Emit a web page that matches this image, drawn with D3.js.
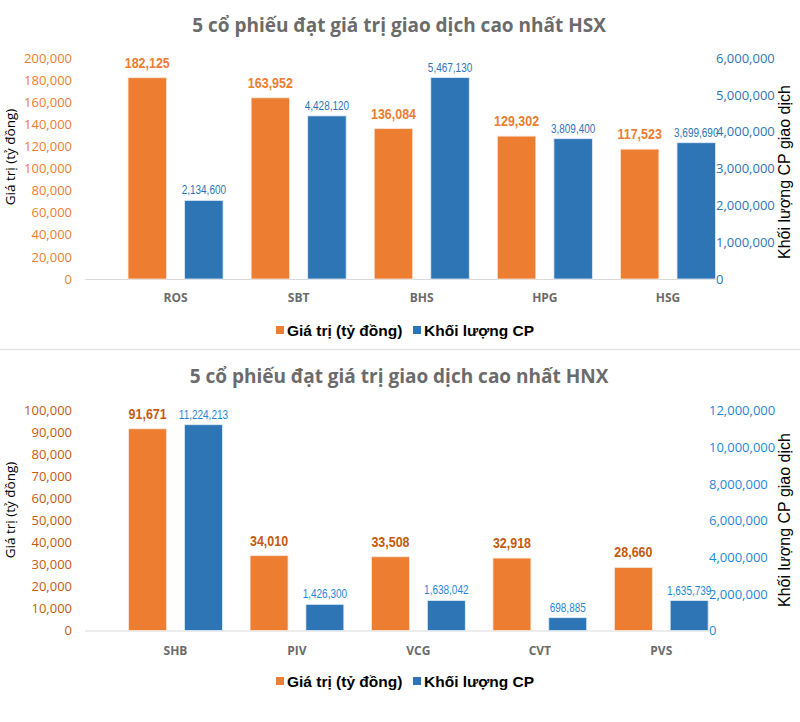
<!DOCTYPE html>
<html><head><meta charset="utf-8">
<script src="https://cdn.jsdelivr.net/npm/d3@7"></script>
<style>body{margin:0;background:#fff}svg{display:block}</style>
</head><body>
<svg id="c" width="800" height="722"></svg>
<script>
// ---- data ----
const hsxCategories = ["ROS", "SBT", "BHS", "HPG", "HSG"];
const hsxValue = [182125, 163952, 136084, 129302, 117523];      // Giá trị (tỷ đồng)
const hsxVolume = [2134600, 4428120, 5467130, 3809400, 3699690]; // Khối lượng CP
const hsxLeftTicks = [0, 20000, 40000, 60000, 80000, 100000, 120000, 140000, 160000, 180000, 200000];
const hsxRightTicks = [0, 1000000, 2000000, 3000000, 4000000, 5000000, 6000000];

const hnxCategories = ["SHB", "PIV", "VCG", "CVT", "PVS"];
const hnxValue = [91671, 34010, 33508, 32918, 28660];
const hnxVolume = [11224213, 1426300, 1638042, 698885, 1635739];
const hnxLeftTicks = [0, 10000, 20000, 30000, 40000, 50000, 60000, 70000, 80000, 90000, 100000];
const hnxRightTicks = [0, 2000000, 4000000, 6000000, 8000000, 10000000, 12000000];

const seriesNames = ["Giá trị (tỷ đồng)", "Khối lượng CP"];

const svg = d3.select("#c");
const fmt = d3.format(",");

function drawChart(cfg) {
  const g = svg.append("g");
  // title
  g.append("text").attr("x", 399).attr("y", cfg.titleY)
    .attr("text-anchor", "middle")
    .attr("font-family", "'Open Sans', sans-serif").attr("font-weight", 700)
    .attr("font-size", 19).attr("fill", "#6b6b6b").text(cfg.title);

  const yL = d3.scaleLinear().domain([0, d3.max(cfg.leftTicks)]).range([cfg.y0, cfg.y1]);
  const yR = d3.scaleLinear().domain([0, d3.max(cfg.rightTicks)]).range([cfg.y0, cfg.y1]);
  const x0 = d3.scaleBand().domain(cfg.cats).range(cfg.xRange).paddingInner(0.228).paddingOuter(0.114);
  const x1 = d3.scaleBand().domain([0, 1]).range([0, x0.bandwidth()]).paddingInner(0.32);

  // left axis
  const la = d3.axisLeft(yL).tickValues(cfg.leftTicks).tickFormat(fmt).tickSize(0).tickPadding(0);
  const lg = g.append("g").attr("transform", `translate(72,0)`).call(la);
  lg.select(".domain").remove();
  lg.selectAll("text").attr("font-family", "'Open Sans', sans-serif").attr("font-size", 13)
    .attr("fill", cfg.leftColor);

  // right axis
  const ra = d3.axisRight(yR).tickValues(cfg.rightTicks).tickFormat(fmt).tickSize(0).tickPadding(0);
  const rg = g.append("g").attr("transform", `translate(${cfg.rightX},0)`).call(ra);
  rg.select(".domain").remove();
  rg.selectAll("text").attr("font-family", "'Open Sans', sans-serif").attr("font-size", 13)
    .attr("fill", cfg.rightColor);

  // baseline
  g.append("line").attr("x1", 85).attr("x2", cfg.rightX).attr("y1", cfg.y0 + 0.5).attr("y2", cfg.y0 + 0.5)
    .attr("stroke", "#d9d9d9").attr("stroke-width", 1);

  // bars
  const groups = g.selectAll(".grp").data(cfg.cats).join("g")
    .attr("transform", d => `translate(${x0(d)},0)`);
  groups.append("rect")
    .attr("x", x1(0)).attr("width", x1.bandwidth())
    .attr("y", (d, i) => yL(cfg.val[i])).attr("height", (d, i) => cfg.y0 - yL(cfg.val[i]))
    .attr("fill", "#ED7D31").attr("stroke", "#fbe5d6").attr("stroke-width", 0.8);
  groups.append("rect")
    .attr("x", x1(1)).attr("width", x1.bandwidth())
    .attr("y", (d, i) => yR(cfg.vol[i])).attr("height", (d, i) => cfg.y0 - yR(cfg.vol[i]))
    .attr("fill", "#2E75B6").attr("stroke", "#deebf7").attr("stroke-width", 0.8);

  // data labels (condensed look)
  groups.append("text")
    .attr("transform", (d, i) => `translate(${x1(0) + x1.bandwidth() / 2},${yL(cfg.val[i]) - 10}) scale(0.86,1)`)
    .attr("text-anchor", "middle")
    .attr("font-family", "'Liberation Sans', Arial, sans-serif").attr("font-weight", 700)
    .attr("font-size", 14.5).attr("fill", cfg.valLabelColor)
    .text((d, i) => fmt(cfg.val[i]));
  groups.append("text")
    .attr("transform", (d, i) => `translate(${x1(1) + x1.bandwidth() / 2},${yR(cfg.vol[i]) - 6}) scale(0.8,1)`)
    .attr("text-anchor", "middle")
    .attr("font-family", "'Liberation Sans', Arial, sans-serif")
    .attr("font-size", 12.5).attr("fill", cfg.volLabelColor)
    .text((d, i) => fmt(cfg.vol[i]));

  // category labels
  groups.append("text")
    .attr("x", x0.bandwidth() / 2).attr("y", cfg.catY)
    .attr("text-anchor", "middle")
    .attr("font-family", "'Open Sans', sans-serif").attr("font-weight", 700)
    .attr("font-size", 12).attr("fill", "#6b6b6b").text(d => d);

  // axis titles
  g.append("text").attr("transform", `translate(15,${cfg.leftTitleY}) rotate(-90)`)
    .attr("text-anchor", "middle")
    .attr("font-family", "'Open Sans', sans-serif").attr("font-size", 13.5).attr("fill", "#000")
    .text("Giá trị (tỷ đồng)");
  g.append("text").attr("transform", `translate(790,${cfg.rightTitleY}) rotate(-90)`)
    .attr("text-anchor", "middle")
    .attr("font-family", "'Liberation Sans', Arial, sans-serif").attr("font-size", 16).attr("fill", "#000")
    .text("Khối lượng CP giao dịch");

  // legend
  const lgd = g.append("g").attr("transform", `translate(0,${cfg.legendY})`);
  const items = [{x: 276, c: "#ED7D31"}, {x: 413, c: "#2E75B6"}];
  items.forEach((it, i) => {
    lgd.append("rect").attr("x", it.x).attr("y", -5).attr("width", 8).attr("height", 8).attr("fill", it.c);
    lgd.append("text").attr("x", it.x + 11).attr("y", 0).attr("dy", "0.35em")
      .attr("font-family", "'Liberation Sans', Arial, sans-serif").attr("font-weight", 700)
      .attr("font-size", 15.5).attr("fill", "#000").text(seriesNames[i]);
  });
}

drawChart({
  title: "5 cổ phiếu đạt giá trị giao dịch cao nhất HSX", titleY: 32,
  cats: hsxCategories, val: hsxValue, vol: hsxVolume,
  leftTicks: hsxLeftTicks, rightTicks: hsxRightTicks,
  y0: 279, y1: 58, xRange: [114, 729.5], rightX: 716,
  leftColor: "#ED7D31", rightColor: "#2E75B6",
  valLabelColor: "#ED7D31", volLabelColor: "#2E75B6",
  catY: 302, leftTitleY: 157, rightTitleY: 172, legendY: 331
});

svg.append("line").attr("x1", 0).attr("x2", 800).attr("y1", 349.5).attr("y2", 349.5)
  .attr("stroke", "#e6e6e6").attr("stroke-width", 1.5);

drawChart({
  title: "5 cổ phiếu đạt giá trị giao dịch cao nhất HNX", titleY: 383,
  cats: hnxCategories, val: hnxValue, vol: hnxVolume,
  leftTicks: hnxLeftTicks, rightTicks: hnxRightTicks,
  y0: 630.5, y1: 410.5, xRange: [114.8, 722], rightX: 709,
  leftColor: "#C55A11", rightColor: "#1F87D9",
  valLabelColor: "#C55A11", volLabelColor: "#1F87D9",
  catY: 655, leftTitleY: 510, rightTitleY: 520, legendY: 682
});
</script>
</body></html>
